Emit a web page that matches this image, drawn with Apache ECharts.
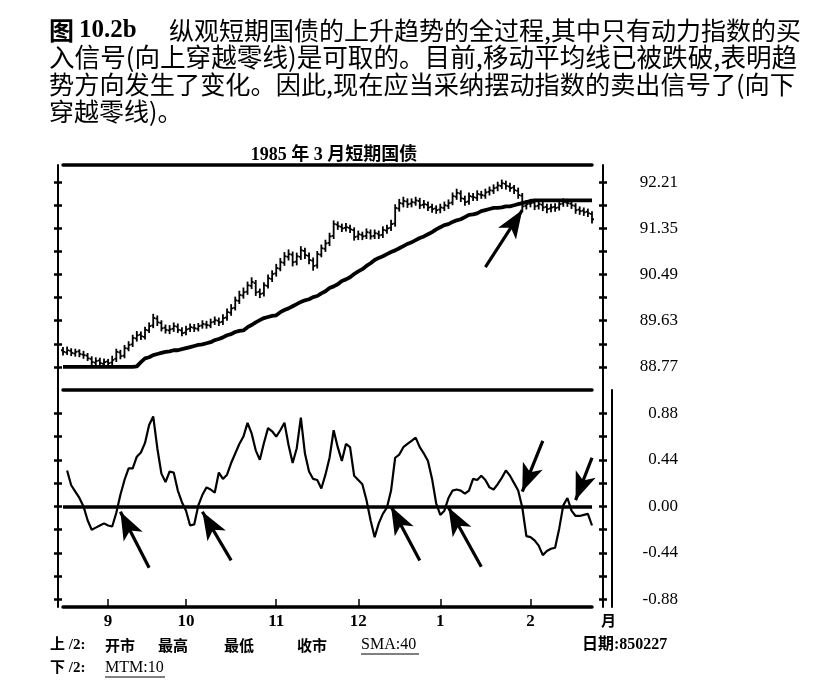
<!DOCTYPE html>
<html>
<head>
<meta charset="utf-8">
<script src="https://cdn.jsdelivr.net/npm/echarts@6/dist/echarts.min.js"></script>
<style>
  html, body { margin: 0; padding: 0; background: #fff; }
  #chart { width: 818px; height: 693px; }
</style>
</head>
<body>
<div id="chart"></div>
<script>
// 1984-85 daily bars (one bar per trading day)
const monthLabels = ['9', '10', '11', '12', '1', '2'];
const monthIdx = [11, 30, 52, 72, 92, 114];

const opens = [89.08,89.04,89.07,89.02,89.06,89.00,88.98,88.92,88.85,88.89,
  88.83,88.87,88.85,88.92,89.04,88.98,89.11,89.19,89.30,89.37,
  89.33,89.45,89.54,89.67,89.59,89.50,89.45,89.48,89.52,89.45,
  89.41,89.48,89.50,89.48,89.54,89.56,89.54,89.61,89.63,89.61,
  89.69,89.78,89.87,90.00,90.10,90.17,90.28,90.33,90.17,90.14,
  90.28,90.41,90.51,90.60,90.71,90.82,90.86,90.73,90.82,90.93,
  90.84,90.75,90.66,90.86,90.97,91.08,91.21,91.42,91.38,91.36,
  91.36,91.32,91.20,91.23,91.21,91.27,91.21,91.25,91.23,91.31,
  91.36,91.44,91.72,91.81,91.85,91.81,91.83,91.86,91.79,91.79,
  91.75,91.72,91.70,91.73,91.77,91.83,91.94,92.00,91.90,91.85,
  91.94,91.92,91.98,91.96,92.03,92.05,92.11,92.14,92.18,92.13,
  92.11,92.05,91.96,91.77,91.81,91.83,91.77,91.79,91.75,91.72,
  91.75,91.74,91.81,91.83,91.81,91.77,91.70,91.68,91.66,91.62];

const highs = [89.12,89.13,89.10,89.09,89.08,89.05,89.01,88.95,88.93,88.92,
  88.91,88.90,88.96,89.09,89.07,89.16,89.23,89.35,89.42,89.41,
  89.50,89.58,89.74,89.71,89.62,89.54,89.53,89.58,89.56,89.49,
  89.52,89.56,89.55,89.57,89.62,89.61,89.65,89.69,89.67,89.73,
  89.84,89.92,90.06,90.17,90.23,90.34,90.42,90.37,90.21,90.33,
  90.47,90.55,90.67,90.78,90.89,90.94,90.90,90.88,91.00,90.97,
  90.88,90.79,90.91,91.03,91.12,91.25,91.48,91.46,91.42,91.43,
  91.40,91.35,91.29,91.27,91.33,91.31,91.31,91.29,91.37,91.40,
  91.49,91.78,91.88,91.92,91.89,91.89,91.92,91.90,91.86,91.83,
  91.79,91.76,91.79,91.83,91.87,92.00,92.07,92.04,91.94,92.00,
  91.99,92.04,92.03,92.07,92.11,92.15,92.20,92.24,92.22,92.18,
  92.14,92.09,91.99,91.86,91.88,91.86,91.85,91.83,91.79,91.79,
  91.80,91.85,91.89,91.88,91.85,91.80,91.74,91.72,91.70,91.65];

const lows = [89.00,89.01,88.99,88.98,88.97,88.94,88.90,88.82,88.81,88.80,
  88.80,88.79,88.82,88.88,88.93,88.95,89.08,89.16,89.26,89.29,
  89.30,89.42,89.51,89.55,89.45,89.41,89.40,89.44,89.42,89.36,
  89.38,89.44,89.44,89.45,89.50,89.50,89.51,89.57,89.55,89.57,
  89.65,89.74,89.84,89.96,90.06,90.13,90.24,90.11,90.07,90.10,
  90.25,90.37,90.47,90.57,90.67,90.77,90.66,90.68,90.78,90.80,
  90.70,90.58,90.62,90.83,90.93,91.04,91.17,91.34,91.30,91.31,
  91.28,91.14,91.15,91.15,91.17,91.16,91.17,91.17,91.19,91.27,
  91.32,91.40,91.68,91.76,91.75,91.76,91.79,91.73,91.74,91.69,
  91.66,91.64,91.65,91.69,91.73,91.80,91.90,91.86,91.79,91.81,
  91.88,91.88,91.92,91.92,91.98,92.01,92.06,92.10,92.09,92.05,
  92.01,91.92,91.70,91.72,91.76,91.71,91.72,91.69,91.65,91.67,
  91.68,91.70,91.77,91.77,91.73,91.64,91.62,91.60,91.58,91.46];

const closes = [89.05,89.08,89.03,89.05,89.01,88.99,88.93,88.86,88.88,88.84,
  88.86,88.84,88.90,89.05,88.97,89.12,89.18,89.31,89.36,89.34,
  89.46,89.53,89.68,89.60,89.49,89.46,89.47,89.53,89.46,89.40,
  89.47,89.51,89.49,89.53,89.57,89.55,89.60,89.64,89.60,89.68,
  89.79,89.86,90.01,90.11,90.16,90.29,90.35,90.16,90.13,90.29,
  90.42,90.50,90.61,90.72,90.83,90.87,90.72,90.83,90.94,90.85,
  90.76,90.65,90.87,90.98,91.07,91.20,91.43,91.39,91.35,91.37,
  91.33,91.19,91.24,91.20,91.28,91.20,91.26,91.22,91.32,91.35,
  91.43,91.73,91.82,91.86,91.80,91.84,91.87,91.78,91.80,91.74,
  91.71,91.69,91.74,91.78,91.82,91.95,92.01,91.91,91.84,91.95,
  91.93,91.99,91.97,92.02,92.06,92.10,92.15,92.19,92.14,92.10,
  92.06,91.97,91.76,91.80,91.82,91.76,91.80,91.74,91.71,91.74,
  91.73,91.80,91.84,91.82,91.78,91.69,91.67,91.65,91.63,91.52];

// SMA:40
const sma = [88.77,88.77,88.77,88.77,88.77,88.77,88.77,88.77,88.77,88.77,
  88.77,88.77,88.77,88.77,88.77,88.77,88.77,88.77,88.78,88.86,
  88.93,88.95,88.99,89.01,89.03,89.05,89.06,89.08,89.08,89.10,
  89.12,89.14,89.16,89.18,89.19,89.21,89.23,89.27,89.29,89.32,
  89.36,89.38,89.42,89.44,89.45,89.51,89.55,89.60,89.64,89.68,
  89.70,89.72,89.73,89.79,89.83,89.86,89.90,89.94,89.98,90.01,
  90.03,90.07,90.09,90.14,90.18,90.24,90.27,90.31,90.37,90.40,
  90.44,90.50,90.55,90.59,90.65,90.70,90.76,90.80,90.83,90.87,
  90.91,90.94,90.98,91.02,91.06,91.09,91.13,91.17,91.20,91.24,
  91.28,91.33,91.37,91.41,91.43,91.47,91.50,91.52,91.56,91.60,
  91.61,91.63,91.67,91.69,91.71,91.73,91.73,91.74,91.76,91.76,
  91.78,91.80,91.82,91.84,91.86,91.87,91.87,91.87,91.87,91.87,
  91.87,91.87,91.87,91.87,91.87,91.87,91.87,91.87,91.87,91.87];

// MTM:10
const mtm = [null,0.34,0.20,0.14,0.08,0.00,-0.13,-0.22,-0.20,-0.18,
  -0.16,-0.18,-0.19,-0.06,0.11,0.25,0.36,0.36,0.47,0.51,
  0.60,0.77,0.85,0.55,0.31,0.23,0.33,0.32,0.15,0.04,
  -0.04,-0.18,-0.17,0.01,0.11,0.18,0.16,0.13,0.32,0.26,
  0.30,0.41,0.50,0.59,0.66,0.79,0.69,0.53,0.44,0.60,
  0.74,0.71,0.66,0.72,0.79,0.58,0.41,0.55,0.84,0.50,
  0.33,0.26,0.25,0.17,0.30,0.46,0.72,0.56,0.43,0.59,
  0.56,0.29,0.25,0.21,0.06,-0.13,-0.29,-0.16,-0.07,-0.01,
  0.15,0.46,0.49,0.56,0.59,0.62,0.65,0.56,0.50,0.43,
  0.26,0.03,-0.08,-0.04,0.08,0.15,0.16,0.15,0.12,0.15,
  0.26,0.25,0.29,0.25,0.18,0.16,0.21,0.27,0.34,0.29,
  0.22,0.15,-0.01,-0.28,-0.29,-0.32,-0.37,-0.46,-0.42,-0.40,
  -0.39,-0.21,0.01,0.08,-0.04,-0.09,-0.09,-0.08,-0.07,-0.18];

const priceTicks = [88.77, 89.20, 89.63, 90.06, 90.49, 90.92, 91.35, 91.78, 92.21];
const priceLabels = [88.77, 89.63, 90.49, 91.35, 92.21];
const mtmTicks = [-0.88, -0.66, -0.44, -0.22, 0, 0.22, 0.44, 0.66, 0.88];
const mtmLabels = [-0.88, -0.44, 0, 0.44, 0.88];

// arrows: [tail index, tail value, tip index, tip value]
const priceArrows = [[103.4, 90.63, 112.2, 91.69]];
const mtmArrows = [
  [21.2, -0.58, 13.9, -0.05],
  [41.2, -0.51, 33.9, -0.05],
  [86.8, -0.51, 79.8, 0.00],
  [102.2, -0.57, 94.4, -0.01],
  [117.1, 0.62, 112.2, 0.14],
  [129, 0.46, 125.4, 0.06]
];

const days = closes.map(() => '');
monthIdx.forEach((d, k) => { days[d] = monthLabels[k]; });
const bars = closes.map((c, i) => [i, opens[i], highs[i], lows[i], c]);

const serif = 'Liberation Serif';
const cjk = 'Noto Sans CJK SC';
const black = '#000';

function arrowLines(list) {
  return list.map(a => [
    { coord: [a[0], a[1]], symbol: 'none' },
    { coord: [a[2], a[3]], symbol: 'arrow', symbolSize: [16, 28] }
  ]);
}

function yPair(grid, min, max, side, offset, ticks, labels) {
  const base = {
    gridIndex: grid, type: 'value', position: side, offset: offset,
    min: min, max: max, splitLine: { show: false }
  };
  return [
    Object.assign({}, base, {
      axisLine: { show: true, lineStyle: { color: black, width: 2 } },
      axisTick: { show: true, inside: false, length: 4, customValues: ticks, lineStyle: { color: black, width: 2.5 } },
      axisLabel: labels ? {
        show: true, customValues: labels, align: 'right', margin: 75,
        padding: [0, 0, 11, 0],
        fontFamily: serif, fontSize: 17, color: black,
        formatter: v => v.toFixed(2)
      } : { show: false }
    }),
    Object.assign({}, base, {
      axisLine: { show: false },
      axisTick: { show: true, inside: true, length: 4, customValues: ticks, lineStyle: { color: black, width: 2.5 } },
      axisLabel: { show: false }
    })
  ];
}

const chart = echarts.init(document.getElementById('chart'));

const option = {
  animation: false,
  backgroundColor: '#fff',
  grid: [
    { left: 63, top: 165, width: 529, height: 225 },
    { left: 63, top: 390, width: 529, height: 217 }
  ],
  xAxis: [
    {
      gridIndex: 0, type: 'category', data: days, boundaryGap: false, position: 'top',
      axisLine: { lineStyle: { color: black, width: 3.5 } },
      axisTick: { show: false }, axisLabel: { show: false }
    },
    {
      gridIndex: 0, type: 'category', data: days, boundaryGap: false, position: 'bottom',
      axisLine: { onZero: false, lineStyle: { color: black, width: 3.5 } },
      axisTick: { show: false }, axisLabel: { show: false }
    },
    {
      gridIndex: 1, type: 'category', data: days, boundaryGap: false, position: 'bottom',
      name: '月', nameLocation: 'end', nameGap: 9,
      nameTextStyle: { fontFamily: cjk, fontWeight: 'bold', fontSize: 15, color: black,
        verticalAlign: 'top', padding: [6, 0, 0, 0] },
      axisLine: { onZero: false, lineStyle: { color: black, width: 3.5 } },
      axisTick: { show: true, inside: true, length: 8, lineStyle: { color: black, width: 1.5 },
        interval: (i, v) => v !== '' },
      axisLabel: { show: true, interval: (i, v) => v !== '', margin: 6,
        fontFamily: serif, fontWeight: 'bold', fontSize: 17, color: black }
    }
  ],
  yAxis: [].concat(
    yPair(0, 88.34, 92.53, 'left', 5, priceTicks, null),
    yPair(0, 88.34, 92.53, 'right', 11, priceTicks, priceLabels),
    yPair(1, -0.95, 1.1, 'left', 5, mtmTicks, null),
    yPair(1, -0.95, 1.1, 'right', 11, mtmTicks, mtmLabels),
    [{
      gridIndex: 1, type: 'value', position: 'right', offset: 20, min: -0.95, max: 1.1,
      axisLine: { show: true, lineStyle: { color: black, width: 2 } },
      axisTick: { show: false }, axisLabel: { show: false }, splitLine: { show: false }
    }]
  ),
  series: [
    {
      name: '开市 最高 最低 收市',
      type: 'custom',
      xAxisIndex: 0, yAxisIndex: 0,
      data: bars,
      encode: { x: 0, y: [1, 2, 3, 4] },
      renderItem: (params, api) => {
        const i = api.value(0);
        const o = api.coord([i, api.value(1)]);
        const h = api.coord([i, api.value(2)]);
        const l = api.coord([i, api.value(3)]);
        const c = api.coord([i, api.value(4)]);
        const st = { stroke: black, lineWidth: 1.8 };
        return {
          type: 'group',
          children: [
            { type: 'line', shape: { x1: h[0], y1: h[1] - 1, x2: l[0], y2: l[1] + 1 }, style: st },
            { type: 'line', shape: { x1: o[0] - 2, y1: o[1], x2: o[0], y2: o[1] }, style: st },
            { type: 'line', shape: { x1: c[0], y1: c[1], x2: c[0] + 2, y2: c[1] }, style: st }
          ]
        };
      }
    },
    {
      name: 'SMA:40',
      type: 'line',
      xAxisIndex: 0, yAxisIndex: 0,
      data: sma,
      symbol: 'none',
      lineStyle: { color: black, width: 3.8 },
      markLine: {
        silent: true, animation: false,
        symbol: ['none', 'none'],
        label: { show: false },
        lineStyle: { color: black, width: 3.2, type: 'solid' },
        data: arrowLines(priceArrows)
      }
    },
    {
      name: 'MTM:10',
      type: 'line',
      xAxisIndex: 2, yAxisIndex: 8,
      data: mtm,
      symbol: 'none',
      lineStyle: { color: black, width: 2.2 },
      markLine: {
        silent: true, animation: false,
        symbol: ['none', 'none'],
        label: { show: false },
        lineStyle: { color: black, width: 3.2, type: 'solid' },
        data: [{ yAxis: 0, lineStyle: { width: 3.5 } }].concat(arrowLines(mtmArrows))
      }
    }
  ],
  graphic: [
    { type: 'text', x: 49, y: 30, style: { text: '图', font: 'bold 25px "Noto Sans CJK SC"', fill: black, textVerticalAlign: 'middle' } },
    { type: 'text', x: 79, y: 31, style: { text: '10.2b', font: 'bold 25px "Liberation Serif"', fill: black, textVerticalAlign: 'middle' } },
    { type: 'text', x: 801, y: 30, style: { text: '纵观短期国债的上升趋势的全过程,其中只有动力指数的买', font: '25px "Noto Sans CJK SC"', fill: black, textAlign: 'right', textVerticalAlign: 'middle' } },
    { type: 'text', x: 49, y: 57, style: { text: '入信号(向上穿越零线)是可取的。目前,移动平均线已被跌破,表明趋', font: '25.6px "Noto Sans CJK SC"', fill: black, textVerticalAlign: 'middle' } },
    { type: 'text', x: 49, y: 84, style: { text: '势方向发生了变化。因此,现在应当采纳摆动指数的卖出信号了(向下', font: '25.2px "Noto Sans CJK SC"', fill: black, textVerticalAlign: 'middle' } },
    { type: 'text', x: 49, y: 111, style: { text: '穿越零线)。', font: '25px "Noto Sans CJK SC"', fill: black, textVerticalAlign: 'middle' } },

    { type: 'text', x: 334, y: 155, style: { text: '1985 年 3 月短期国债', font: 'bold 18px "Liberation Serif", "Noto Sans CJK SC"', fill: black, textAlign: 'center', textVerticalAlign: 'middle' } },

    { type: 'text', x: 50, y: 645, style: { text: '上 /2:', font: 'bold 15px "Liberation Serif", "Noto Sans CJK SC"', fill: black, textVerticalAlign: 'middle' } },
    { type: 'text', x: 105, y: 645, style: { text: '开市', font: 'bold 15px "Noto Sans CJK SC"', fill: black, textVerticalAlign: 'middle' } },
    { type: 'text', x: 158, y: 645, style: { text: '最高', font: 'bold 15px "Noto Sans CJK SC"', fill: black, textVerticalAlign: 'middle' } },
    { type: 'text', x: 224, y: 645, style: { text: '最低', font: 'bold 15px "Noto Sans CJK SC"', fill: black, textVerticalAlign: 'middle' } },
    { type: 'text', x: 297, y: 645, style: { text: '收市', font: 'bold 15px "Noto Sans CJK SC"', fill: black, textVerticalAlign: 'middle' } },
    { type: 'text', x: 361, y: 645, style: { text: 'SMA:40', font: '16px "Liberation Serif"', fill: black, textVerticalAlign: 'middle' } },
    { type: 'line', shape: { x1: 361, y1: 654, x2: 419, y2: 654 }, style: { stroke: black, lineWidth: 1 } },
    { type: 'text', x: 582, y: 645, style: { text: '日期:850227', font: 'bold 16px "Liberation Serif", "Noto Sans CJK SC"', fill: black, textVerticalAlign: 'middle' } },
    { type: 'text', x: 50, y: 668, style: { text: '下 /2:', font: 'bold 15px "Liberation Serif", "Noto Sans CJK SC"', fill: black, textVerticalAlign: 'middle' } },
    { type: 'text', x: 105, y: 668, style: { text: 'MTM:10', font: '16px "Liberation Serif"', fill: black, textVerticalAlign: 'middle' } },
    { type: 'line', shape: { x1: 105, y1: 677, x2: 165, y2: 677 }, style: { stroke: black, lineWidth: 1 } }
  ]
};

chart.setOption(option);
</script>
</body>
</html>
